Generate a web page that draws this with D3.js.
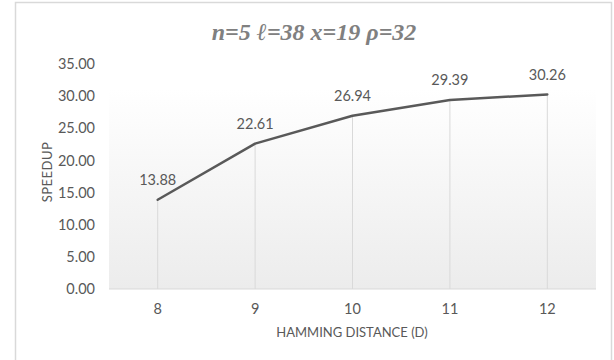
<!DOCTYPE html>
<html><head><meta charset="utf-8">
<script src="https://cdn.jsdelivr.net/npm/d3@7"></script>
<style>
html,body{margin:0;padding:0;background:#fff;}
svg{display:block;}
</style></head>
<body>
<svg id="chart" width="614" height="360"></svg>
<script>
const categories = ["8", "9", "10", "11", "12"];
const speedup = [13.88, 22.61, 26.94, 29.39, 30.26];
const yTicks = [0, 5, 10, 15, 20, 25, 30, 35];
const titleText = "n=5 ℓ=38 x=19 ρ=32";
const xTitle = "HAMMING DISTANCE (D)";
const yTitle = "SPEEDUP";

const svg = d3.select("#chart");
const margin = {left: 109, right: 18, top: 64, bottom: 71};
const W = 614, H = 360;
const FONT = "Lato, 'Open Sans', sans-serif";

// chart frame
svg.append("rect").attr("x", 15.5).attr("y", 2.5).attr("width", 596).attr("height", 370)
  .attr("fill", "#fff").attr("stroke", "#d9d9d9").attr("stroke-width", 1.5);

const x = d3.scaleBand().domain(categories).range([margin.left, W - margin.right]);
const y = d3.scaleLinear().domain([0, 35]).range([H - margin.bottom, margin.top]);

// gradient plot fill
const defs = svg.append("defs");
const grad = defs.append("linearGradient").attr("id", "pg").attr("x1", 0).attr("y1", 0).attr("x2", 0).attr("y2", 1);
grad.append("stop").attr("offset", "0%").attr("stop-color", "#ffffff");
grad.append("stop").attr("offset", "100%").attr("stop-color", "#ececec");
svg.append("rect").attr("x", margin.left).attr("y", y(31.1))
  .attr("width", W - margin.right - margin.left).attr("height", y(0) - y(31.1))
  .attr("fill", "url(#pg)");

const cx = d => x(d) + x.bandwidth() / 2;

// drop lines
svg.append("g").selectAll("line").data(categories).join("line")
  .attr("x1", d => cx(d)).attr("x2", d => cx(d))
  .attr("y1", (d, i) => y(speedup[i])).attr("y2", y(0))
  .attr("stroke", "#d9d9d9").attr("stroke-width", 1);

// baseline
svg.append("line").attr("x1", margin.left).attr("x2", W - margin.right)
  .attr("y1", y(0)).attr("y2", y(0)).attr("stroke", "#d9d9d9").attr("stroke-width", 1);

// y axis
const yAxis = d3.axisLeft(y).tickValues(yTicks).tickFormat(d3.format(".2f")).tickSize(0).tickPadding(0);
const gy = svg.append("g").attr("transform", "translate(95,0)").call(yAxis);
gy.select(".domain").remove();
gy.selectAll("text").attr("fill", "#595959").style("font-family", FONT).style("font-size", "14.5px");

// x axis
const xAxis = d3.axisBottom(x).tickSize(0).tickPadding(0);
const gx = svg.append("g").attr("transform", `translate(0,${y(0) + 13})`).call(xAxis);
gx.select(".domain").remove();
gx.selectAll("text").attr("fill", "#595959").attr("dy", "0.32em").attr("y", 7).style("font-family", FONT).style("font-size", "14.5px");

// line
const line = d3.line().x((d, i) => cx(categories[i])).y(d => y(d));
svg.append("path").datum(speedup).attr("d", line).attr("fill", "none")
  .attr("stroke", "#595959").attr("stroke-width", 2.5).attr("stroke-linejoin", "round").attr("stroke-linecap", "round");

// data labels
svg.append("g").selectAll("text").data(speedup).join("text")
  .attr("x", (d, i) => cx(categories[i])).attr("y", d => y(d) - 20)
  .attr("dy", "0.35em").attr("text-anchor", "middle").attr("fill", "#595959")
  .style("font-family", FONT).style("font-size", "14.5px")
  .text(d => d3.format(".2f")(d));

// title
svg.append("text").attr("x", 314).attr("y", 32).attr("dy", "0.35em").attr("text-anchor", "middle")
  .attr("fill", "#808080").style("font-family", "'Liberation Serif', 'DejaVu Serif', serif")
  .style("font-style", "italic").style("font-weight", "bold").style("font-size", "24px")
  .text(titleText);

// axis titles
svg.append("text").attr("x", 352).attr("y", 332).attr("dy", "0.35em").attr("text-anchor", "middle")
  .attr("fill", "#595959").style("font-family", FONT).style("font-size", "13px")
  .text(xTitle);
svg.append("text").attr("transform", "translate(47,172) rotate(-90)").attr("dy", "0.35em").attr("text-anchor", "middle")
  .attr("fill", "#595959").style("font-family", FONT).style("font-size", "13px")
  .style("letter-spacing", "0.5px")
  .text(yTitle);
</script>
</body></html>
